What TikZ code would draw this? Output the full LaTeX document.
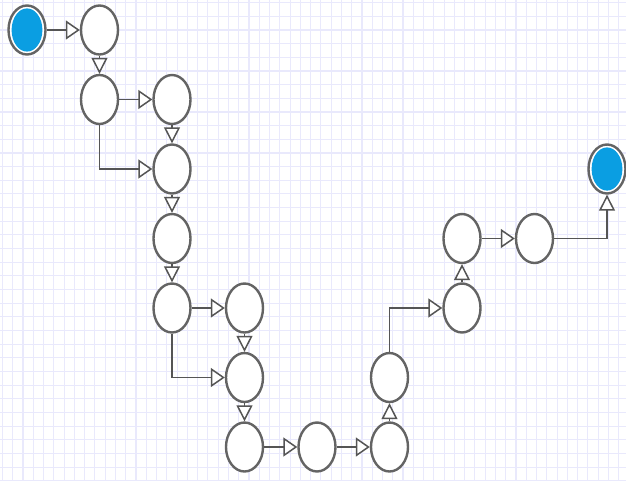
\documentclass[tikz,border=0pt]{standalone}
\usetikzlibrary{shapes.geometric,arrows.meta}
\definecolor{gridC}{RGB}{233,233,252}
\definecolor{edgeC}{RGB}{85,85,85}
\definecolor{ringC}{RGB}{100,100,100}
\definecolor{fillB}{RGB}{10,158,226}
\tikzset{
  state/.style={ellipse, draw=ringC, line width=2.4pt, fill=white,
    minimum width=37pt, minimum height=49pt, inner sep=0pt},
  terminal/.style={state,
    path picture={\fill[fillB] (path picture bounding box.center) ellipse (15.4pt and 21.6pt);}},
  flow/.style={draw=edgeC, line width=1.6pt},
  harrow/.style={flow, -{Triangle[open, fill=white, length=14pt, width=19pt, line width=1.5pt]}},
  varrow/.style={flow, -{Triangle[open, fill=white, length=16pt, width=16pt, line width=1.5pt]}},
}
\begin{document}
\begin{tikzpicture}[x=1pt, y=-1pt]
  \useasboundingbox (0,0) rectangle (626,480);
  \fill[white] (0,0) rectangle (626,480);
  % background grid
  \foreach \i in {0,...,60}
    \draw[gridC, line width=1.1pt] ({2.5+\i*10.27},0) -- ({2.5+\i*10.27},480);
  \foreach \j in {0,...,35}
    \draw[gridC, line width=1.1pt] (0,{2.7+\j*13.66}) -- (626,{2.7+\j*13.66});

  % states: columns every 72.5, rows every 69.5
  \node[terminal] (A) at (27,30) {};
  \node[state] (B) at (99.5,30) {};
  \node[state] (C) at (99.5,99.5) {};
  \node[state] (D) at (172,99.5) {};
  \node[state] (E) at (172,169) {};
  \node[state] (F) at (172,238.5) {};
  \node[state] (G) at (172,308) {};
  \node[state] (H) at (244.5,308) {};
  \node[state] (I) at (244.5,377.5) {};
  \node[state] (J) at (244.5,447) {};
  \node[state] (K) at (317,447) {};
  \node[state] (L) at (389.5,447) {};
  \node[state] (M) at (389.5,377.5) {};
  \node[state] (N) at (462,308) {};
  \node[state] (O) at (462,238.5) {};
  \node[state] (P) at (534.5,238.5) {};
  \node[terminal] (Q) at (607,169) {};

  % transitions
  \draw[harrow] (A) -- (B);
  \draw[varrow] (B) -- (C);
  \draw[harrow] (C) -- (D);
  \draw[varrow] (D) -- (E);
  \draw[harrow] (C) |- (E);
  \draw[varrow] (E) -- (F);
  \draw[varrow] (F) -- (G);
  \draw[harrow] (G) -- (H);
  \draw[varrow] (H) -- (I);
  \draw[harrow] (G) |- (I);
  \draw[varrow] (I) -- (J);
  \draw[harrow] (J) -- (K);
  \draw[harrow] (K) -- (L);
  \draw[varrow] (L) -- (M);
  \draw[harrow] (M) |- (N);
  \draw[varrow] (N) -- (O);
  \draw[harrow] (O) -- (P);
  \draw[varrow] (P) -| (Q);
\end{tikzpicture}
\end{document}
